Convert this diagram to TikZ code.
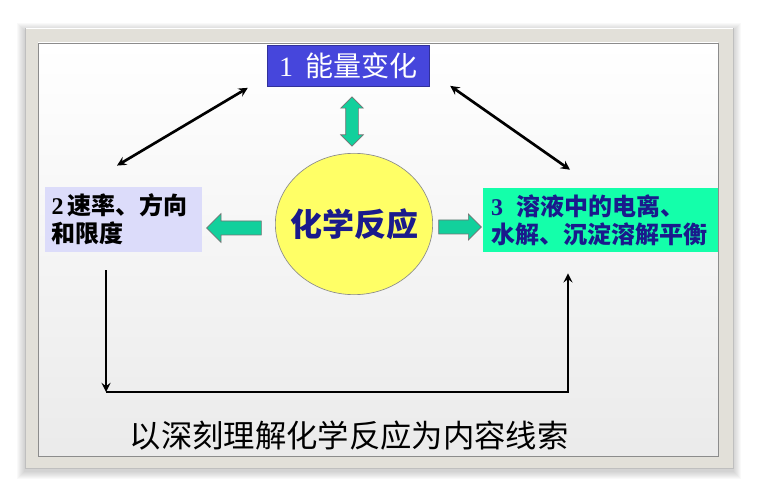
\documentclass[tikz,border=0pt]{standalone}
\usepackage{fontspec}
\setmainfont{Liberation Serif}
\newfontfamily\cjk{Noto Sans CJK SC}
\usetikzlibrary{shapes.geometric, shapes.arrows, arrows}
\definecolor{framegray}{HTML}{E2E0D9}
\definecolor{topblue}{HTML}{4646DC}
\definecolor{lavender}{HTML}{DCDCFA}
\definecolor{spring}{HTML}{14FFAA}
\definecolor{fatgreen}{HTML}{12D09C}
\definecolor{navy}{HTML}{1A1A8C}
\definecolor{lemon}{HTML}{FFFF66}
\tikzstyle{topbox} = [rectangle, fill=topblue, draw=topblue!70!black, line width=0.3pt, minimum width=121.5pt, minimum height=31pt, text=white, font=\fontsize{21pt}{24pt}\selectfont]
\tikzstyle{ratebox} = [rectangle, fill=lavender, minimum width=118pt, minimum height=49pt, text width=108pt, inner xsep=5pt, align=left, font=\bfseries\fontsize{18pt}{21pt}\selectfont]
\tikzstyle{ionbox} = [rectangle, fill=spring, minimum width=176pt, minimum height=48pt, text width=164pt, inner xsep=6pt, align=left, text=navy, font=\bfseries\fontsize{18pt}{21pt}\selectfont]
\tikzstyle{core} = [ellipse, fill=lemon, draw=black!45, line width=0.5pt, inner sep=0pt, minimum width=118pt, minimum height=106pt]
\tikzstyle{coretext} = [text=navy, font=\cjk\bfseries\fontsize{24pt}{28pt}\selectfont]
\tikzstyle{fat} = [single arrow, fill=fatgreen, draw=black!55, line width=0.5pt, inner sep=0pt, minimum height=#1]
\tikzstyle{arrow} = [line width=2pt,->,>=stealth]
\tikzstyle{twoway} = [line width=2pt,<->,>=stealth]

\begin{document}
\begin{tikzpicture}[x=0.75pt, y=-0.75pt]
	\useasboundingbox (0,0) rectangle (757,499);
	\foreach \s in {1,...,8}
		\fill [black, opacity=0.025] (25-\s,28-\s+3) rectangle (733+\s,468+\s+3);
	\fill [framegray, draw=black!25, line width=0.4pt] (25,28) rectangle (733,468);
	\draw [white, line width=1pt] (25.5,28.5) -- (732.5,28.5);
	\shade [top color=white, bottom color=black!8, draw=black!45, line width=0.4pt] (38,43) rectangle (718,456);

	\node (energy) [topbox] at (348,66) {1\hspace{9pt}{\cjk 能量变化}};
	\node (reaction) [core, label={[coretext]center:化学反应}] at (354,224) {};
	\node (rate) [ratebox] at (123.5,219.5) {2\,{\cjk 速率、方向}\\{\cjk 和限度}};
	\node (ion) [ionbox] at (600.5,220) {3\hspace{10pt}{\cjk 溶液中的电离、}\\{\cjk 水解、沉淀溶解平衡}};
	\node (thread) at (349,436) {\cjk\fontsize{23.5pt}{28pt}\selectfont 以深刻理解化学反应为内容线索};

	\node (updown) [fat=37pt, double arrow, shape border rotate=90, minimum width=16.5pt, double arrow head extend=3.75pt, inner xsep=4.5pt] at (352,121.5) {};
	\node (toleft) [fat=41pt, shape border rotate=180, minimum width=21pt, single arrow head extend=5.5pt, inner ysep=5pt] at (237.5,228) {};
	\node (toright) [fat=32pt, minimum width=19pt, single arrow head extend=4.5pt, inner ysep=5pt] at (456.5,227) {};

	\coordinate (turnleft) at (106,392);
	\coordinate (turnright) at (568,392);

	\draw [twoway] ([shift={(-6.5,-21)}]rate.north) -- ([shift={(-19,1)}]energy.south west);
	\draw [twoway] ([shift={(21,-1)}]energy.south east) -- ([shift={(-30.5,-18)}]ion.north);
	\draw [arrow] ([shift={(-17.5,18)}]rate.south) -- (turnleft);
	\draw [arrow] (turnleft) -- (turnright) -- ([shift={(-32.5,21)}]ion.south);
\end{tikzpicture}
\end{document}
